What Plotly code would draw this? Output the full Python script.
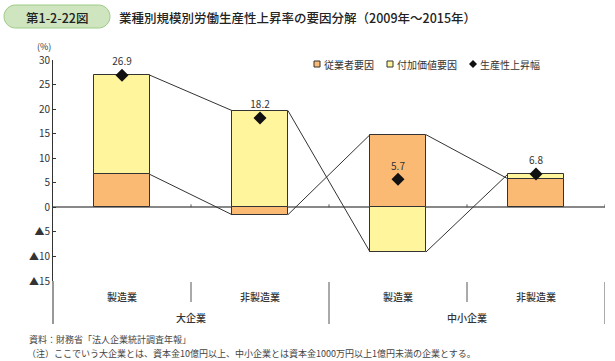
import plotly.graph_objects as go

# ---- data ----
categories = ["製造業", "非製造業", "製造業", "非製造業"]
groups = ["大企業", "中小企業"]
employee_factor = [6.7, -1.5, 14.8, 5.8]      # 従業者要因
value_added_factor = [20.2, 19.7, -9.1, 1.0]  # 付加価値要因
productivity = [26.9, 18.2, 5.7, 6.8]         # 生産性上昇幅
y_ticks = [30, 25, 20, 15, 10, 5, 0, -5, -10, -15]
y_tick_text = ["30", "25", "20", "15", "10", "5", "0", "▲5", "▲10", "▲15"]

FONT = "Noto Sans CJK JP"
TXT = "#333333"
ORANGE = "#FBBA74"
YELLOW = "#FFF59D"
BW = 0.405
xs = list(range(len(categories)))

fig = go.Figure()
fig.add_bar(x=xs, y=employee_factor, width=BW, marker=dict(color=ORANGE, line=dict(color="#333", width=1)),
            name="従業者要因", showlegend=False)
fig.add_bar(x=xs, y=value_added_factor, width=BW, marker=dict(color=YELLOW, line=dict(color="#333", width=1)),
            name="付加価値要因", showlegend=False)

# series lines (connect ends of each stacked segment)
emp_end = list(employee_factor)
va_end = [e + v if (e >= 0) == (v >= 0) else v for e, v in zip(employee_factor, value_added_factor)]
lx, ly = [], []
for ends in (emp_end, va_end):
    for i in range(len(xs) - 1):
        lx += [xs[i] + BW / 2, xs[i + 1] - BW / 2, None]
        ly += [ends[i], ends[i + 1], None]
fig.add_scatter(x=lx, y=ly, mode="lines", line=dict(color="#333", width=1), showlegend=False, hoverinfo="skip")

fig.add_scatter(x=xs, y=productivity, mode="markers+text", marker=dict(symbol="diamond", size=10, color="#111"),
                text=[f"{v:.1f}" for v in productivity], textposition="top center", cliponaxis=False,
                textfont=dict(family=FONT, size=10, color=TXT), name="生産性上昇幅", showlegend=False)

shapes = []
annotations = []


def py(p):
    return (281 - p) / 221.0


def px(p):
    return (p - 53) / 552.0


def note(x, y, text, size=10, color=TXT, xanchor="center", xref="paper", weight="normal"):
    annotations.append(dict(x=x, y=y, xref=xref, yref="paper", text=text, showarrow=False,
                            xanchor=xanchor, yanchor="middle", borderpad=0,
                            font=dict(family=FONT, size=size, color=color, weight=weight)))


# small ticks at the zero line between categories
for b in [0.5, 1.5, 2.5, 3.5]:
    shapes.append(dict(type="line", xref="x", yref="y", x0=b, x1=b, y0=0, y1=0.6, line=dict(color="#555", width=1)))

# y axis line extension & category separators
shapes.append(dict(type="line", xref="paper", yref="paper", x0=0, x1=0, y0=py(281), y1=py(324),
                   line=dict(color="#333", width=1)))
for b in [0.5, 2.5]:
    shapes.append(dict(type="line", xref="x", yref="paper", x0=b, x1=b, y0=py(282), y1=py(302),
                       line=dict(color="#555", width=1)))
for b in [1.5, 3.5]:
    shapes.append(dict(type="line", xref="x", yref="paper", x0=b, x1=b, y0=py(282), y1=py(324),
                       line=dict(color="#555", width=1)))

for x, c in zip(xs, categories):
    note(x, py(296), c, xref="x", weight=500)
for i, g in enumerate(groups):
    note(2 * i + 0.5, py(317), g, xref="x", weight=500)

# unit
note(px(44), py(46), "(%)", size=9)

# legend (custom)
legend_items = [("従業者要因", ORANGE, "square", 317), ("付加価値要因", YELLOW, "square", 390),
                ("生産性上昇幅", "#111", "diamond", 473)]
for name, col, sym, xp in legend_items:
    if sym == "square":
        shapes.append(dict(type="rect", xref="paper", yref="paper", x0=px(xp - 3), x1=px(xp + 3),
                           y0=py(67), y1=py(61), fillcolor=col, line=dict(color="#333", width=1)))
    else:
        shapes.append(dict(type="path", xref="paper", yref="paper",
                           path=f"M {px(xp-4)} {py(64)} L {px(xp)} {py(60)} L {px(xp+4)} {py(64)} L {px(xp)} {py(68)} Z",
                           fillcolor=col, line=dict(color="#111", width=0)))
    note(px(xp + 6), py(64), name, xanchor="left")

# title pill
x0, x1, y0, y1 = px(4), px(110), py(5), py(28)
rx, ry = 11.5 / 552, 11.5 / 221
k = 0.5523
ym = (y0 + y1) / 2
path = (f"M {x0+rx} {y0} L {x1-rx} {y0} "
        f"C {x1-rx+k*rx} {y0} {x1} {ym+k*ry} {x1} {ym} "
        f"C {x1} {ym-k*ry} {x1-rx+k*rx} {y1} {x1-rx} {y1} "
        f"L {x0+rx} {y1} "
        f"C {x0+rx-k*rx} {y1} {x0} {ym-k*ry} {x0} {ym} "
        f"C {x0} {ym+k*ry} {x0+rx-k*rx} {y0} {x0+rx} {y0} Z")
shapes.append(dict(type="path", xref="paper", yref="paper", path=path, fillcolor="#CFE5BF",
                   line=dict(color="#9CCB86", width=1)))
note((px(4) + px(110)) / 2, py(17), "第1-2-22図", size=12.5, color="#222", weight=500)
note(px(118), py(17), "業種別規模別労働生産性上昇率の要因分解（2009年～2015年）", size=12.5, color="#222",
     xanchor="left", weight=500)

# footnotes
note(px(28), py(339), "資料：財務省「法人企業統計調査年報」", size=9, color="#444", xanchor="left")
note(px(26), py(353), "（注）ここでいう大企業とは、資本金10億円以上、中小企業とは資本金1000万円以上1億円未満の企業とする。",
     size=9, color="#444", xanchor="left")

fig.update_layout(
    width=615, height=361, margin=dict(l=53, r=10, t=60, b=80),
    paper_bgcolor="white", plot_bgcolor="white",
    barmode="relative", bargap=0,
    font=dict(family=FONT, size=10, color=TXT),
    xaxis=dict(range=[-0.5, 3.5], showticklabels=False, showgrid=False, zeroline=False, showline=False, ticks=""),
    yaxis=dict(range=[-15, 30], tickvals=y_ticks, ticktext=y_tick_text, showgrid=False,
               zeroline=True, zerolinecolor="#888", zerolinewidth=1.5,
               showline=True, linecolor="#333", linewidth=1, ticks="inside", ticklen=3, tickcolor="#333",
               tickfont=dict(family=FONT, size=10, color=TXT)),
    shapes=shapes, annotations=annotations,
)

fig.write_html("out.html")
